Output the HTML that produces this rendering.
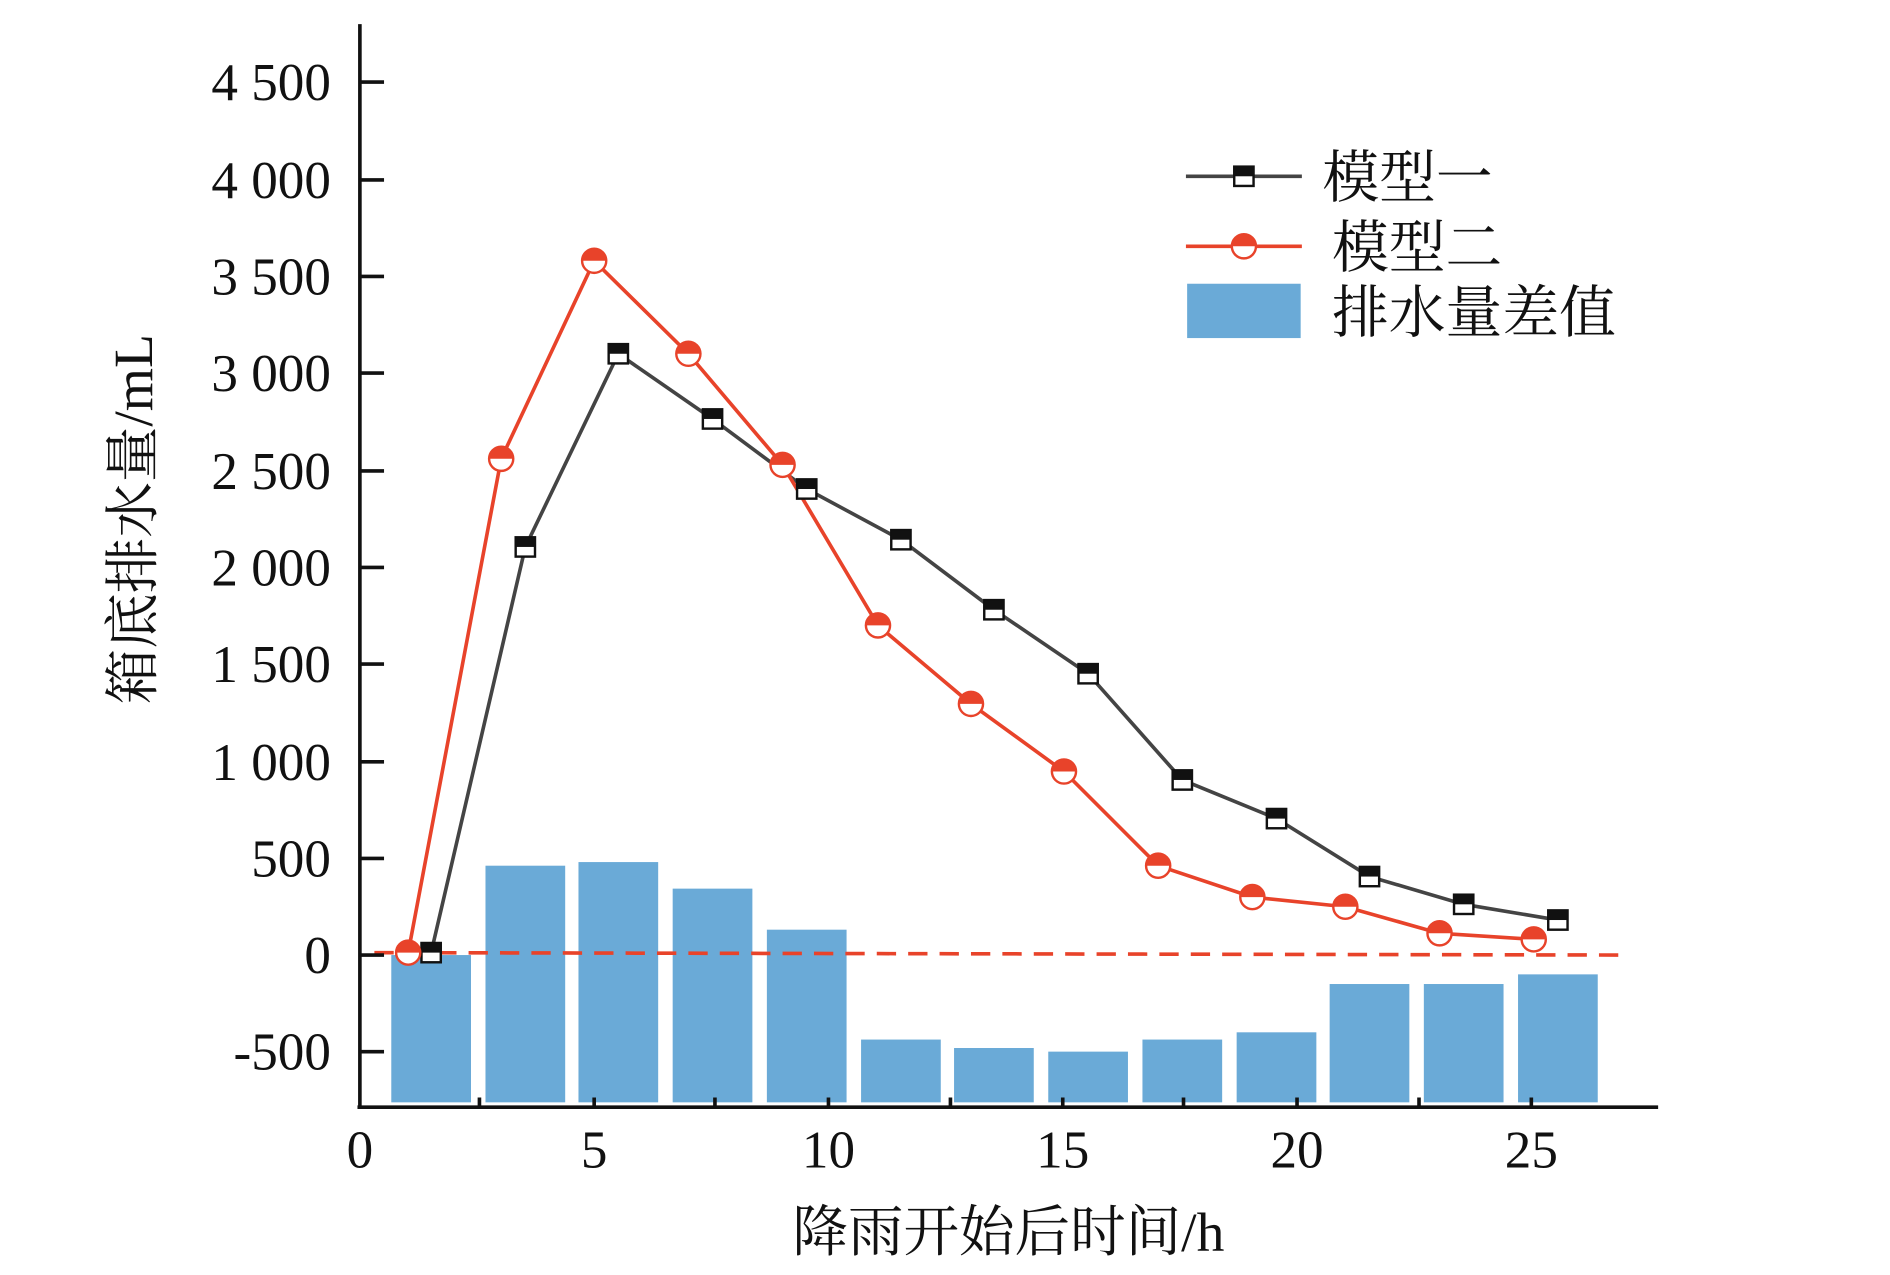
<!DOCTYPE html><html><head><meta charset="utf-8"><style>body{margin:0;background:#fff}svg{display:block}</style></head><body>
<svg width="1890" height="1275" viewBox="0 0 1565 1056" preserveAspectRatio="none" xmlns="http://www.w3.org/2000/svg" font-family="'Liberation Serif','Noto Serif CJK SC',serif">
<defs>
<g id="sq"><rect x="-8" y="-8" width="16" height="16" fill="#fff" stroke="#111" stroke-width="2"/><rect x="-8" y="-8" width="16" height="8" fill="#111"/></g>
<g id="ci"><circle r="10" fill="#fff" stroke="#e8432a" stroke-width="2"/><path d="M-10 0A10 10 0 0 1 10 0Z" fill="#e8432a"/></g>
</defs>
<g fill="#6aaad7">
<rect x="324" y="791" width="66" height="122"/><rect x="402" y="717" width="66" height="196"/><rect x="479" y="714" width="66" height="199"/><rect x="557" y="736" width="66" height="177"/><rect x="635" y="770" width="66" height="143"/><rect x="713" y="861" width="66" height="52"/><rect x="790" y="868" width="66" height="45"/><rect x="868" y="871" width="66" height="42"/><rect x="946" y="861" width="66" height="52"/><rect x="1024" y="855" width="66" height="58"/><rect x="1101" y="815" width="66" height="98"/><rect x="1179" y="815" width="66" height="98"/><rect x="1257" y="807" width="66" height="106"/>
</g>
<line x1="310" y1="789" x2="1342" y2="791" stroke="#e8432a" stroke-width="3" stroke-dasharray="16,10"/>
<g stroke="#111" stroke-width="3" fill="none">
<line x1="298" y1="20" x2="298" y2="918"/><line x1="296" y1="917" x2="1373" y2="917"/>
<path d="M298 68h20M298 149h20M298 229h20M298 309h20M298 390h20M298 470h20M298 550h20M298 631h20M298 711h20M298 791h20M298 871h20"/>
<path d="M397 917v-8M492 917v-8M592 917v-8M686 917v-8M787 917v-8M880 917v-8M980 917v-8M1074 917v-8M1175 917v-8M1268 917v-8"/>
</g>
<polyline fill="none" stroke="#444" stroke-width="3" points="357,789 435,453 512,293 590,347 668,405 746,447 823,505 901,558 979,646 1057,678 1134,726 1212,749 1290,762"/>
<polyline fill="none" stroke="#e8432a" stroke-width="3" points="338,789 415,380 492,216 570,293 648,385 727,518 804,583 881,639 959,717 1037,743 1114,751 1192,773 1270,778"/>
<g><use href="#sq" x="357" y="789"/><use href="#sq" x="435" y="453"/><use href="#sq" x="512" y="293"/><use href="#sq" x="590" y="347"/><use href="#sq" x="668" y="405"/><use href="#sq" x="746" y="447"/><use href="#sq" x="823" y="505"/><use href="#sq" x="901" y="558"/><use href="#sq" x="979" y="646"/><use href="#sq" x="1057" y="678"/><use href="#sq" x="1134" y="726"/><use href="#sq" x="1212" y="749"/><use href="#sq" x="1290" y="762"/></g>
<g><use href="#ci" x="338" y="789"/><use href="#ci" x="415" y="380"/><use href="#ci" x="492" y="216"/><use href="#ci" x="570" y="293"/><use href="#ci" x="648" y="385"/><use href="#ci" x="727" y="518"/><use href="#ci" x="804" y="583"/><use href="#ci" x="881" y="639"/><use href="#ci" x="959" y="717"/><use href="#ci" x="1037" y="743"/><use href="#ci" x="1114" y="751"/><use href="#ci" x="1192" y="773"/><use href="#ci" x="1270" y="778"/></g>
<g font-size="44" text-anchor="end" fill="#111">
<text x="274" y="83">4 500</text><text x="274" y="164">4 000</text><text x="274" y="244">3 500</text><text x="274" y="324">3 000</text><text x="274" y="405">2 500</text><text x="274" y="485">2 000</text><text x="274" y="565">1 500</text><text x="274" y="646">1 000</text><text x="274" y="726">500</text><text x="274" y="806">0</text><text x="274" y="886">-500</text>
</g>
<g font-size="44" text-anchor="middle" fill="#111">
<text x="298" y="967">0</text><text x="492" y="967">5</text><text x="686" y="967">10</text><text x="880" y="967">15</text><text x="1074" y="967">20</text><text x="1268" y="967">25</text>
<text x="835" y="1036" font-size="46">降雨开始后时间/h</text>
<text transform="translate(126,430) rotate(-90)" font-size="46">箱底排水量/mL</text>
</g>
<line x1="982" y1="146" x2="1078" y2="146" stroke="#444" stroke-width="3"/><use href="#sq" x="1030" y="146"/>
<line x1="982" y1="204" x2="1078" y2="204" stroke="#e8432a" stroke-width="3"/><use href="#ci" x="1030" y="204"/>
<rect x="983" y="235" width="94" height="45" fill="#6aaad7"/>
<g font-size="47" fill="#111"><text x="1095" y="163">模型一</text><text x="1103" y="221">模型二</text><text x="1103" y="275">排水量差值</text></g>
</svg>
</body></html>
